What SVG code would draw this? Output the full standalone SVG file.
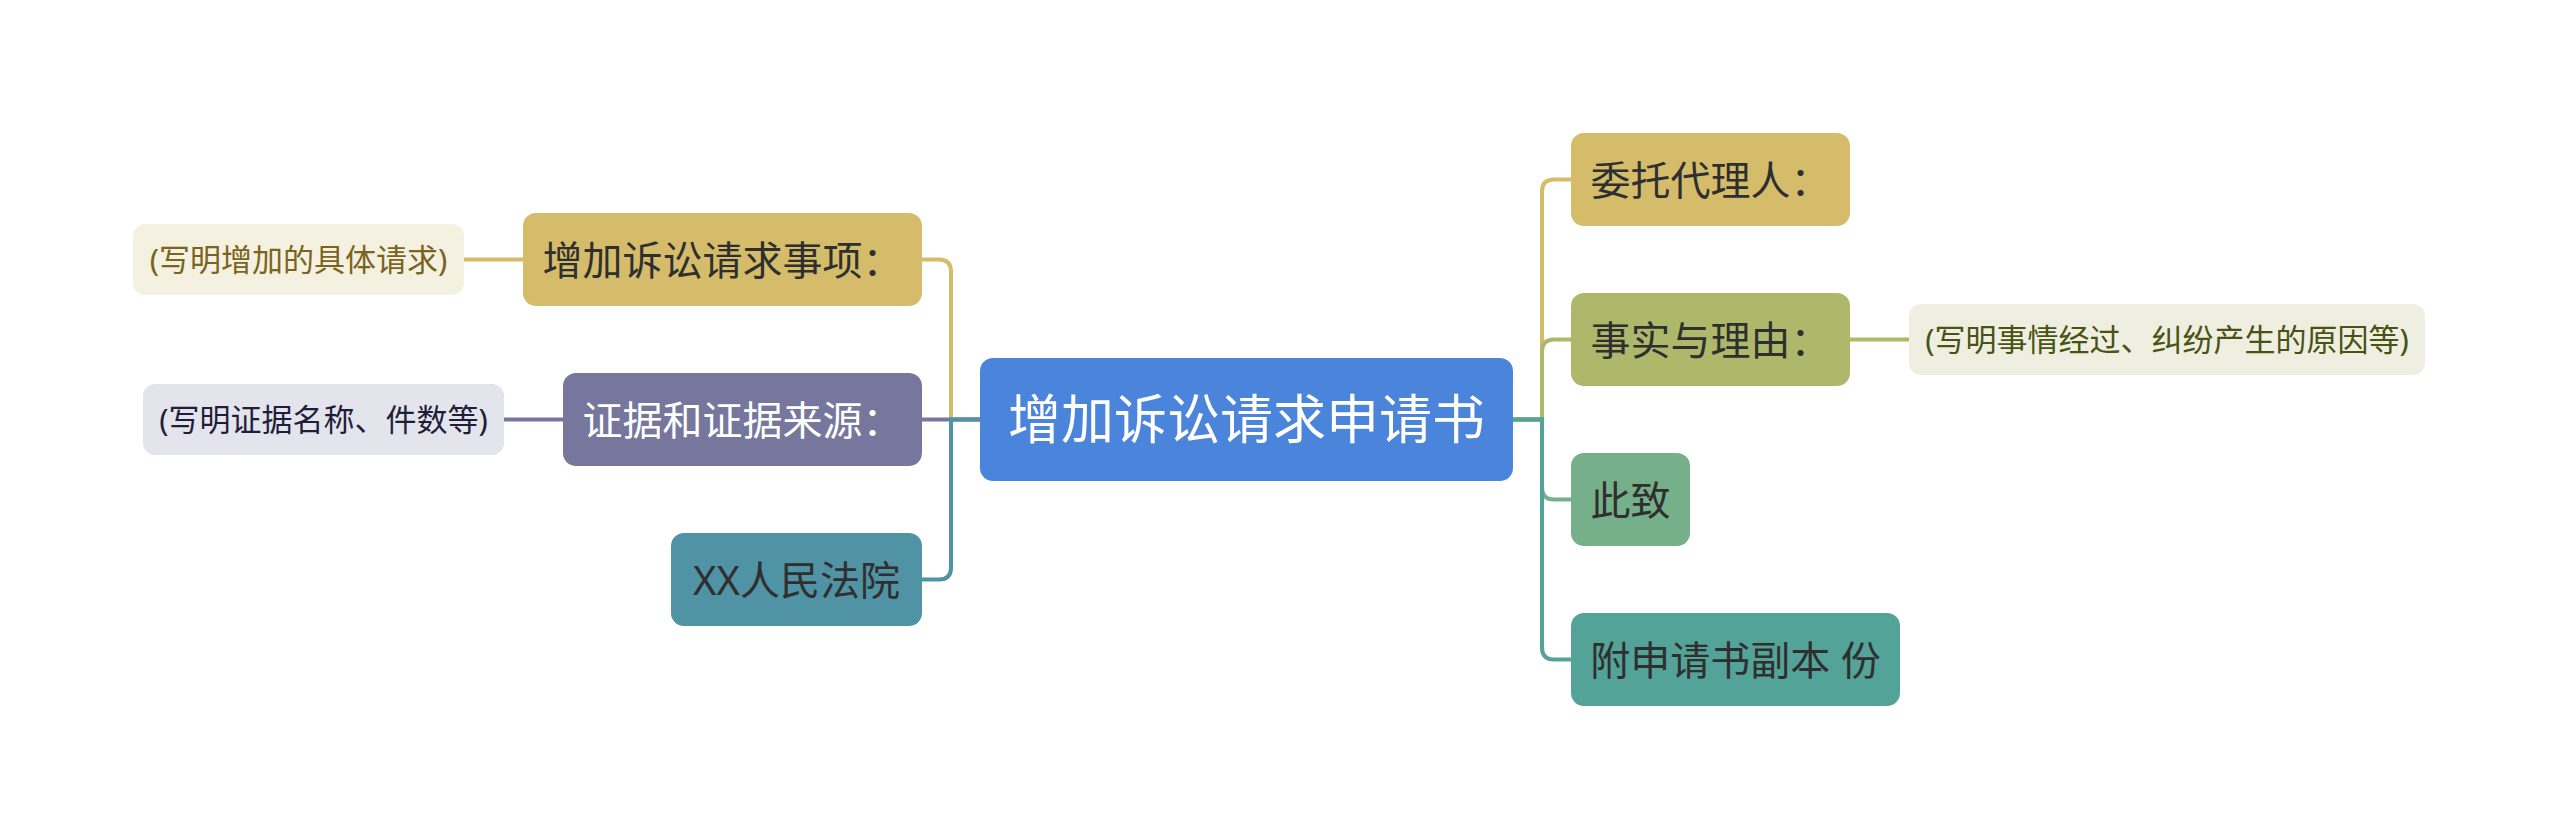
<svg xmlns="http://www.w3.org/2000/svg" width="2560" height="839" viewBox="0 0 2560 839">
<style>
.t{font-family:"Noto Sans","Noto Sans CJK SC",sans-serif;text-anchor:middle}
.l1{font-size:40px;fill:#2f2f2f}
.d{font-size:31px}
.c{fill:none;stroke-width:4;stroke-linecap:butt}
</style>
<rect width="2560" height="839" fill="#ffffff"/>
<g id="connectors">
<path class="c" stroke="#D4BC6A" d="M980,419.5 H951 V271.5 Q951,259.5 939,259.5 H922"/>
<path class="c" stroke="#77779E" d="M980,419.5 H922"/>
<path class="c" stroke="#5093A5" d="M980,419.5 H951 V567.5 Q951,579.5 939,579.5 H922"/>
<path class="c" stroke="#D4BC6A" d="M523,259.5 H464"/>
<path class="c" stroke="#77779E" d="M563,419.5 H504"/>
<path class="c" stroke="#D4BC6A" d="M1513,419.5 H1542 V191.5 Q1542,179.5 1554,179.5 H1571"/>
<path class="c" stroke="#AEB86B" d="M1513,419.5 H1542 V351.5 Q1542,339.5 1554,339.5 H1571"/>
<path class="c" stroke="#76B08A" d="M1513,419.5 H1542 V487.5 Q1542,499.5 1554,499.5 H1571"/>
<path class="c" stroke="#53A398" d="M1513,419.5 H1542 V647.5 Q1542,659.5 1554,659.5 H1571"/>
<path class="c" stroke="#AEB86B" d="M1850,339.5 H1909"/>
</g>
<g id="center">
<rect x="980" y="358" width="533" height="123" rx="13" fill="#4B85DB"/>
<text class="t" x="1246.5" y="439" font-size="53" fill="#ffffff">增加诉讼请求申请书</text>
</g>
<g id="n-zengjia">
<rect x="523" y="213" width="399" height="93" rx="13" fill="#D4BC6A"/>
<text class="t l1" x="722.5" y="274.5">增加诉讼请求事项：</text>
</g>
<g id="d-zengjia">
<rect x="133" y="224" width="331" height="71" rx="12" fill="#F5F1E1"/>
<text class="t d" x="298.5" y="271" fill="#7A6420">(写明增加的具体请求)</text>
</g>
<g id="n-zhengju">
<rect x="563" y="373" width="359" height="93" rx="13" fill="#77779E"/>
<text class="t l1" x="742.5" y="434.5" style="fill:#ffffff">证据和证据来源：</text>
</g>
<g id="d-zhengju">
<rect x="143" y="384" width="361" height="71" rx="12" fill="#E4E4EC"/>
<text class="t d" x="323.5" y="431" fill="#1F1F3A">(写明证据名称、件数等)</text>
</g>
<g id="n-court">
<rect x="671" y="533" width="251" height="93" rx="13" fill="#5093A5"/>
<text class="t l1" x="796.5" y="594.5">XX人民法院</text>
</g>
<g id="n-weituo">
<rect x="1571" y="133" width="279" height="93" rx="13" fill="#D4BC6A"/>
<text class="t l1" x="1710.5" y="194.5">委托代理人：</text>
</g>
<g id="n-shishi">
<rect x="1571" y="293" width="279" height="93" rx="13" fill="#AEB86B"/>
<text class="t l1" x="1710.5" y="354.5">事实与理由：</text>
</g>
<g id="d-shishi">
<rect x="1909" y="304" width="516" height="71" rx="12" fill="#EEEFE1"/>
<text class="t d" x="2167" y="351" fill="#4A5214">(写明事情经过、纠纷产生的原因等)</text>
</g>
<g id="n-cizhi">
<rect x="1571" y="453" width="119" height="93" rx="13" fill="#76B08A"/>
<text class="t l1" x="1630.5" y="514.5">此致</text>
</g>
<g id="n-fu">
<rect x="1571" y="613" width="329" height="93" rx="13" fill="#53A398"/>
<text class="t l1" x="1735.5" y="674.5">附申请书副本 份</text>
</g>
</svg>
